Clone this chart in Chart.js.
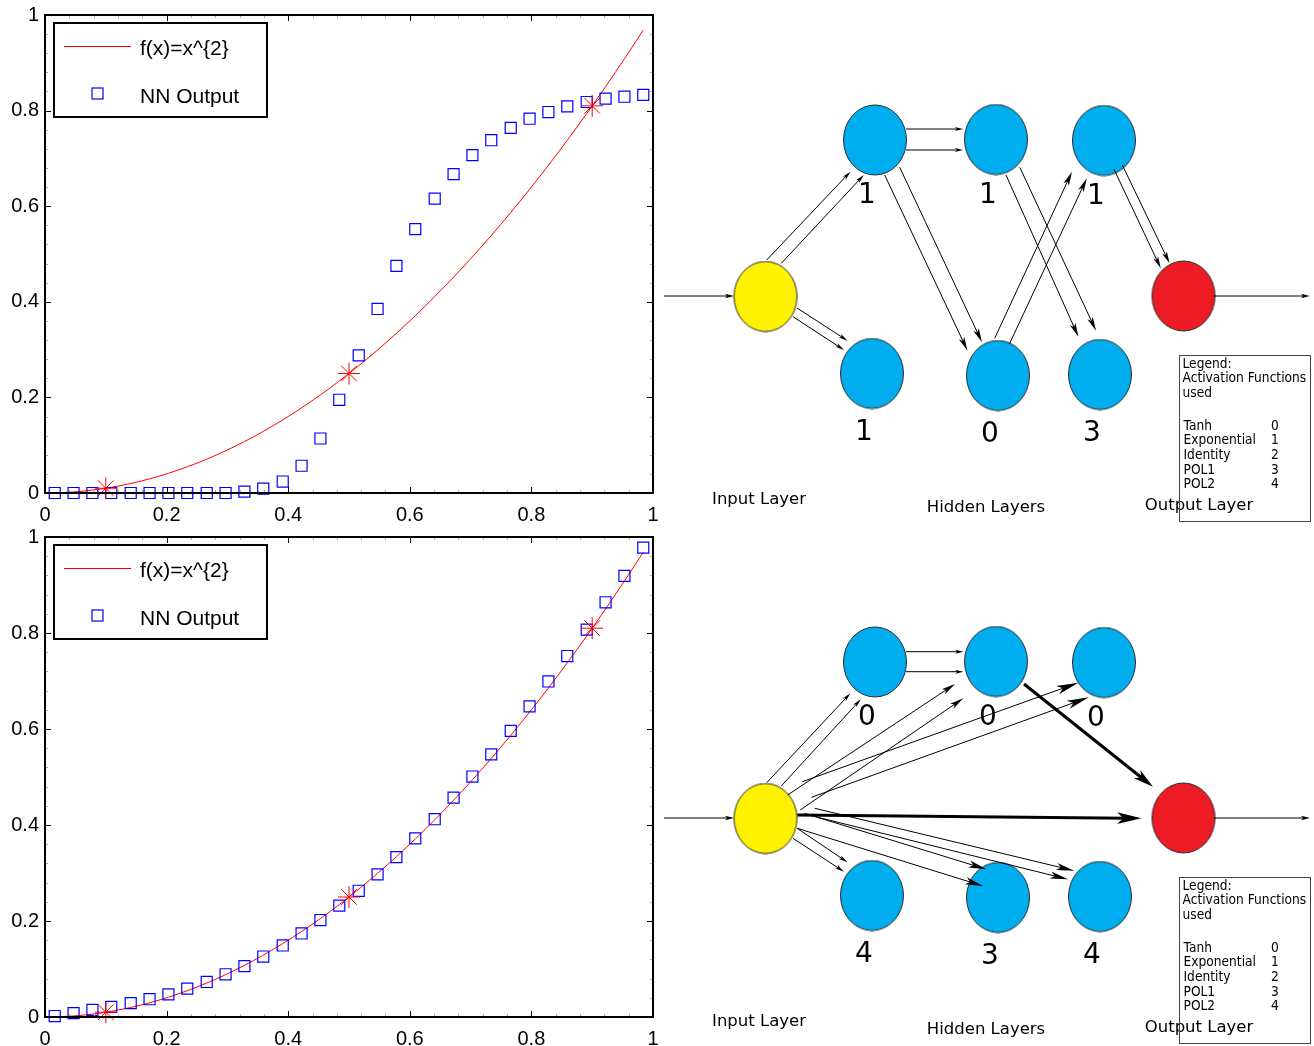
<!DOCTYPE html>
<html>
<head>
<meta charset="utf-8">
<script src="https://cdn.jsdelivr.net/npm/chart.js@4.4.0/dist/chart.umd.min.js"></script>
<style>
html, body { margin: 0; padding: 0; background: #fff; }
#page { position: relative; width: 1314px; height: 1046px; overflow: hidden; background: #fff; }
.panel { position: absolute; }
</style>
</head>
<body>
<div id="page">
    <div class="panel" style="left:0;top:0;width:660px;height:522px"><canvas id="fitTop"></canvas></div>
    <div class="panel" style="left:0;top:522px;width:660px;height:524px"><canvas id="fitBottom"></canvas></div>
    <div class="panel" style="left:660px;top:0;width:654px;height:522px"><canvas id="netTop"></canvas></div>
    <div class="panel" style="left:660px;top:522px;width:654px;height:524px"><canvas id="netBottom"></canvas></div>
</div>
<script>
// #### Data: fit plots
const sampleX = [0.016, 0.047, 0.078, 0.109, 0.141, 0.172, 0.203, 0.234, 0.266, 0.297, 0.328, 0.359, 0.391, 0.422, 0.453, 0.484,
                 0.516, 0.547, 0.578, 0.609, 0.641, 0.672, 0.703, 0.734, 0.766, 0.797, 0.828, 0.859, 0.891, 0.922, 0.953, 0.984];
const targetY = [0.0003, 0.0022, 0.0061, 0.0119, 0.0199, 0.0296, 0.0412, 0.0548, 0.0708, 0.0882, 0.1076, 0.1289, 0.1529, 0.1781, 0.2052, 0.2343,
                 0.2663, 0.2992, 0.3341, 0.3709, 0.4109, 0.4516, 0.4942, 0.5388, 0.5868, 0.6352, 0.6856, 0.7379, 0.7939, 0.8501, 0.9082, 0.9683];
const nnTopY = [0, 0, 0, 0, 0, 0, 0, 0, 0, 0, 0.003, 0.009, 0.024, 0.057, 0.114, 0.195,
                0.288, 0.385, 0.475, 0.552, 0.616, 0.667, 0.707, 0.738, 0.764, 0.783, 0.797, 0.809, 0.818, 0.825, 0.829, 0.833];
const nnBottomY = [0.002, 0.008, 0.015, 0.021, 0.029, 0.037, 0.047, 0.059, 0.073, 0.089, 0.106, 0.126, 0.149, 0.174, 0.202, 0.232,
                   0.263, 0.297, 0.333, 0.372, 0.412, 0.457, 0.501, 0.547, 0.596, 0.647, 0.699, 0.752, 0.807, 0.864, 0.919, 0.978];
const trainX = [0.1, 0.5, 0.9];
const trainY = [0.01, 0.25, 0.81];
const axisTicks = [0, 0.2, 0.4, 0.6, 0.8, 1];
const legendLabels = ['f(x)=x^{2}', 'NN Output'];

// #### Data: network diagrams (diagram units)
const nodeX = [105.5, 215, 336, 444, 212, 338, 440, 523.5];
const nodeY = [296.5, 140, 139.5, 140.5, 373.5, 375.5, 374.5, 296];
const nodeKind = ['input', 'hidden', 'hidden', 'hidden', 'hidden', 'hidden', 'hidden', 'output'];
const topNodeLabels = ['', '1', '1', '1', '1', '0', '3', ''];
const bottomNodeLabels = ['', '0', '0', '0', '4', '3', '4', ''];
const layerNames = ['Input Layer', 'Hidden Layers', 'Output Layer'];
const legendLines = ['Legend:', 'Activation Functions', 'used'];
const activationNames = ['Tanh', 'Exponential', 'Identity', 'POL1', 'POL2'];
const activationCodes = ['0', '1', '2', '3', '4'];

// [x1, y1, x2, y2, lineWidth, headLength]
const topLinks = [
    [4, 296, 74, 296, 1, 9],
    [554, 296, 650, 296, 1, 9],
    [106.7, 260, 190.4, 171.7, 1, 9], [121.3, 263.3, 203.8, 175, 1, 9],
    [137, 308, 187.5, 340.7, 1, 9], [133, 316.7, 184, 350, 1, 9],
    [246, 129, 303, 129, 1, 8], [246, 150, 303, 150, 1, 8],
    [224.7, 175, 307.5, 350.7, 1, 14], [239.7, 167.3, 322, 342.3, 1, 14],
    [346, 175, 418.4, 336.7, 1, 14], [359.8, 167.3, 436, 330.7, 1, 14],
    [334.7, 338.3, 412, 171.7, 1, 14], [349.4, 344, 426.8, 178.3, 1, 14],
    [454, 169.3, 500.8, 268.3, 1, 12], [462.3, 165, 509.6, 263.3, 1, 12]
];
const bottomLinks = [
    [4, 296, 74, 296, 1, 9],
    [554, 296, 650, 296, 1, 9],
    [106.7, 260.7, 190.4, 171.3, 1, 9], [121.3, 264, 200.8, 177.3, 1, 9],
    [127.6, 273, 295, 162, 1, 14], [140.2, 288, 303.3, 176.3, 1, 14],
    [142.3, 259.7, 418.4, 160.7, 1, 22], [151.5, 275.3, 428.9, 175.3, 1, 22],
    [246, 129.7, 303.3, 129.7, 1, 8], [246, 149.7, 303.3, 149.7, 1, 8],
    [364, 162, 492.9, 264.7, 3, 20],
    [137.2, 293, 481.2, 296.3, 3, 24],
    [137.2, 306.3, 187.4, 340.3, 1, 9], [133, 316.3, 184, 349.7, 1, 9],
    [144.4, 291.3, 326.4, 347.3, 1, 18], [137.2, 306.3, 323, 364, 1, 18],
    [154.8, 286.3, 414.2, 348.7, 1, 18], [148.5, 293, 408, 357.3, 1, 18]
];

const TICK_FONT = { family: "'Liberation Sans', Arial, sans-serif", size: 20 };
const NET_FONT = "'DejaVu Sans', Verdana, sans-serif";

// #### Fit plot plugins
const frameBox = {
    id: 'frameBox',
    afterDraw(chart) {
        const { ctx, chartArea: a, scales } = chart;
        ctx.save();
        // minor ticks
        ctx.strokeStyle = '#b0b0b0';
        ctx.lineWidth = 1;
        ctx.beginPath();
        for (let v = 0.04; v < 1; v += 0.04) {
            const px = Math.round(scales.x.getPixelForValue(v)) + 0.5;
            const py = Math.round(scales.y.getPixelForValue(v)) + 0.5;
            ctx.moveTo(px, a.bottom); ctx.lineTo(px, a.bottom - 3);
            ctx.moveTo(px, a.top); ctx.lineTo(px, a.top + 3);
            ctx.moveTo(a.left, py); ctx.lineTo(a.left + 3, py);
            ctx.moveTo(a.right, py); ctx.lineTo(a.right - 3, py);
        }
        ctx.stroke();
        // major ticks
        ctx.strokeStyle = '#000';
        ctx.beginPath();
        axisTicks.forEach(v => {
            const px = Math.round(scales.x.getPixelForValue(v)) + 0.5;
            const py = Math.round(scales.y.getPixelForValue(v)) + 0.5;
            ctx.moveTo(px, a.bottom); ctx.lineTo(px, a.bottom - 6);
            ctx.moveTo(px, a.top); ctx.lineTo(px, a.top + 6);
            ctx.moveTo(a.left, py); ctx.lineTo(a.left + 6, py);
            ctx.moveTo(a.right, py); ctx.lineTo(a.right - 6, py);
        });
        ctx.stroke();
        ctx.lineWidth = 2;
        ctx.strokeRect(a.left, a.top, a.right - a.left, a.bottom - a.top);
        ctx.restore();
    }
};

const boxLegend = {
    id: 'boxLegend',
    afterDraw(chart) {
        const { ctx, chartArea: a } = chart;
        const left = a.left + 9, top = a.top + 8, w = 213, h = 94;
        const line = chart.data.datasets[0], nn = chart.data.datasets[1];
        ctx.save();
        ctx.fillStyle = '#fff';
        ctx.fillRect(left, top, w, h);
        ctx.strokeStyle = '#000';
        ctx.lineWidth = 2;
        ctx.strokeRect(left, top, w, h);
        ctx.strokeStyle = line.borderColor;
        ctx.lineWidth = 1;
        ctx.beginPath();
        ctx.moveTo(left + 10, top + 23.5);
        ctx.lineTo(left + 77, top + 23.5);
        ctx.stroke();
        ctx.strokeStyle = nn.borderColor;
        ctx.lineWidth = 1.2;
        ctx.strokeRect(left + 38, top + 65, 11, 11);
        ctx.fillStyle = '#000';
        ctx.font = `21px ${TICK_FONT.family}`;
        ctx.textBaseline = 'middle';
        ctx.fillText(line.label, left + 86, top + 26);
        ctx.fillText(nn.label, left + 86, top + 74);
        ctx.restore();
    }
};

function fitChart(id, nnY) {
    const tickFmt = v => String(Math.round(v * 10) / 10);
    return new Chart(document.getElementById(id), {
        type: 'scatter',
        data: {
            datasets: [
                {
                    label: legendLabels[0],
                    data: sampleX.map((x, i) => ({ x, y: targetY[i] })),
                    showLine: true, pointRadius: 0, borderColor: '#ff0000', borderWidth: 1,
                    cubicInterpolationMode: 'monotone', order: 3
                },
                {
                    label: legendLabels[1],
                    data: sampleX.map((x, i) => ({ x, y: nnY[i] })),
                    pointStyle: 'rect', pointRadius: 7.8, borderColor: '#0000ff', borderWidth: 1.2,
                    backgroundColor: 'rgba(0,0,0,0)', clip: false, order: 2
                },
                {
                    label: 'training points',
                    data: trainX.map((x, i) => ({ x, y: trainY[i] })),
                    pointStyle: 'star', pointRadius: 11, borderColor: '#ff0000', borderWidth: 1,
                    clip: false, order: 1
                }
            ]
        },
        options: {
            responsive: true,
            maintainAspectRatio: false,
            animation: false,
            events: [],
            layout: { autoPadding: false, padding: { top: 15, right: 7, left: 0, bottom: 0 } },
            plugins: { legend: { display: false }, tooltip: { enabled: false } },
            scales: {
                x: {
                    type: 'linear', min: 0, max: 1,
                    afterFit: s => { s.height = 29; s.paddingLeft = 0; s.paddingRight = 0; },
                    afterBuildTicks: s => { s.ticks = axisTicks.map(v => ({ value: v })); },
                    ticks: { font: TICK_FONT, color: '#000', padding: 10, maxRotation: 0, callback: tickFmt },
                    grid: { display: false, drawTicks: false },
                    border: { display: false }
                },
                y: {
                    type: 'linear', min: 0, max: 1,
                    afterFit: s => { s.width = 45; s.paddingTop = 0; s.paddingBottom = 0; },
                    afterBuildTicks: s => { s.ticks = axisTicks.map(v => ({ value: v })); },
                    ticks: { font: TICK_FONT, color: '#000', padding: 6, callback: tickFmt },
                    grid: { display: false, drawTicks: false },
                    border: { display: false }
                }
            }
        },
        plugins: [frameBox, boxLegend]
    });
}

// #### Network diagrams
function nodeSprite(fill) {
    const c = document.createElement('canvas');
    c.width = 66; c.height = 72;
    const g = c.getContext('2d');
    g.beginPath();
    g.ellipse(33, 36, 31.5, 35, 0, 0, Math.PI * 2);
    g.fillStyle = fill;
    g.fill();
    g.lineWidth = 1;
    g.strokeStyle = '#2a2a2a';
    g.stroke();
    return c;
}
const sprites = { input: nodeSprite('#fff200'), hidden: nodeSprite('#00aeef'), output: nodeSprite('#ed1c24') };

function drawArrow(ctx, x1, y1, x2, y2, w, head) {
    const a = Math.atan2(y2 - y1, x2 - x1);
    const c = Math.cos(a), s = Math.sin(a);
    const hw = head * 0.17 + w * 0.6;
    ctx.lineWidth = w;
    ctx.beginPath();
    ctx.moveTo(x1, y1);
    ctx.lineTo(x2 - c * head * 0.6, y2 - s * head * 0.6);
    ctx.stroke();
    ctx.beginPath();
    ctx.moveTo(x2, y2);
    ctx.lineTo(x2 - c * head - s * hw, y2 - s * head + c * hw);
    ctx.lineTo(x2 - c * head * 0.75, y2 - s * head * 0.75);
    ctx.lineTo(x2 - c * head + s * hw, y2 - s * head - c * hw);
    ctx.closePath();
    ctx.fill();
}

const networkDecor = {
    id: 'networkDecor',
    afterDatasetsDraw(chart, args, opts) {
        const { ctx, scales: { x, y } } = chart;
        const X = v => x.getPixelForValue(v), Y = v => y.getPixelForValue(v);
        ctx.save();
        ctx.strokeStyle = '#000';
        ctx.fillStyle = '#000';
        opts.links.forEach(l => drawArrow(ctx, X(l[0]), Y(l[1]), X(l[2]), Y(l[3]), l[4], l[5]));

        // activation labels under the hidden nodes
        ctx.font = `28px ${NET_FONT}`;
        ctx.textAlign = 'center';
        ctx.textBaseline = 'middle';
        opts.nodeLabels.forEach((t, i) => {
            if (!t) return;
            const below = nodeY[i] > 300 ? 59 : 56;
            ctx.fillText(t, X(nodeX[i] - 8), Y(nodeY[i] + below));
        });

        // layer names
        ctx.font = `16.5px ${NET_FONT}`;
        ctx.fillText(layerNames[0], X(99), Y(500));
        ctx.fillText(layerNames[1], X(326), Y(508));
        ctx.fillText(layerNames[2], X(539), Y(506));

        // legend box
        ctx.textAlign = 'left';
        ctx.font = `14px ${NET_FONT}`;
        const lx = X(522.5);
        const fitText = (t, px, py) => {
            ctx.save();
            ctx.translate(px, py);
            ctx.scale(0.875, 1);
            ctx.fillText(t, 0, 0);
            ctx.restore();
        };
        legendLines.forEach((t, i) => fitText(t, lx, Y(364 + i * 14.5)));
        activationNames.forEach((t, i) => {
            fitText(t, lx + 1, Y(426 + i * 14.7));
            fitText(activationCodes[i], X(611), Y(426 + i * 14.7));
        });
        ctx.strokeStyle = '#444';
        ctx.lineWidth = 1;
        ctx.strokeRect(Math.round(X(519)) + 0.5, Math.round(Y(355)) + 0.5, X(650) - X(519), Y(521) - Y(355));
        ctx.restore();
    }
};

function netChart(id, height, nodeLabels, links) {
    return new Chart(document.getElementById(id), {
        type: 'scatter',
        data: {
            datasets: [{
                data: nodeX.map((v, i) => ({ x: v, y: nodeY[i] })),
                pointStyle: c => sprites[nodeKind[c.dataIndex]],
                pointRadius: 35,
                clip: false
            }]
        },
        options: {
            responsive: true,
            maintainAspectRatio: false,
            animation: false,
            events: [],
            layout: { autoPadding: false, padding: 0 },
            plugins: {
                legend: { display: false },
                tooltip: { enabled: false },
                networkDecor: { nodeLabels, links }
            },
            scales: {
                x: { type: 'linear', display: false, min: 0, max: 654 },
                y: { type: 'linear', display: false, min: 0, max: height, reverse: true }
            }
        },
        plugins: [networkDecor]
    });
}

fitChart('fitTop', nnTopY);
fitChart('fitBottom', nnBottomY);
netChart('netTop', 522, topNodeLabels, topLinks);
netChart('netBottom', 524, bottomNodeLabels, bottomLinks);
</script>
</body>
</html>
